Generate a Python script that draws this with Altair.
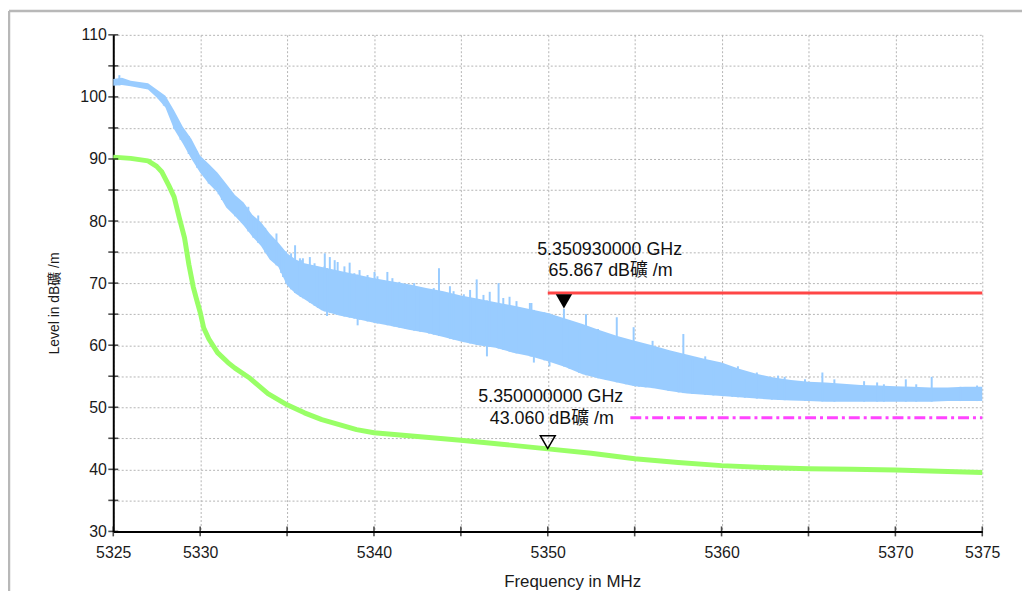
import altair as alt
import numpy as np
import pandas as pd

# ---------------- data ----------------
# Average detector trace (green)
avg_freq = [5325.0, 5326.0, 5327.0, 5327.5, 5327.8, 5328.2, 5328.5, 5328.8, 5329.1, 5329.35,
            5329.6, 5329.8, 5330.0, 5330.2, 5330.5, 5331.0, 5331.6, 5332.0, 5332.8, 5333.9,
            5335.0, 5336.0, 5337.0, 5338.0, 5339.0, 5340.0, 5342.5, 5345.0, 5347.5, 5350.0,
            5352.5, 5355.0, 5357.5, 5360.0, 5362.5, 5365.0, 5367.5, 5370.0, 5372.5, 5375.0]
avg_level = [90.3, 90.1, 89.7, 88.8, 87.9, 85.7, 83.9, 80.5, 77.3, 73.0,
             69.4, 67.3, 65.3, 62.8, 61.0, 58.8, 57.2, 56.3, 54.8, 52.2,
             50.4, 49.1, 48.0, 47.2, 46.4, 45.9, 45.3, 44.7, 44.0, 43.3,
             42.6, 41.7, 41.1, 40.6, 40.3, 40.1, 40.0, 39.9, 39.7, 39.5]

# Peak detector trace (blue): lower / upper envelope of the noisy band
pk_freq = [5325.0, 5325.5, 5326.0, 5327.0, 5327.5, 5328.0, 5328.5, 5329.0, 5329.5, 5330.0,
           5330.5, 5331.0, 5331.5, 5332.0, 5332.5, 5333.0, 5333.5, 5334.0, 5334.5, 5335.0,
           5335.5, 5336.0, 5337.0, 5338.0, 5339.0, 5340.0, 5341.0, 5342.0, 5343.0, 5344.0,
           5345.0, 5346.0, 5347.0, 5348.0, 5349.0, 5350.0, 5351.0, 5352.0, 5353.0, 5354.0,
           5355.0, 5356.0, 5357.0, 5358.0, 5359.0, 5360.0, 5361.0, 5362.0, 5363.0, 5364.0,
           5365.0, 5366.0, 5367.0, 5368.0, 5369.0, 5370.0, 5371.0, 5372.0, 5373.0, 5374.0,
           5375.0]
pk_low = [101.8, 101.9, 101.7, 101.2, 99.9, 98.3, 94.8, 92.5, 90.0, 87.8,
          86.0, 84.6, 82.2, 80.8, 79.3, 77.5, 76.0, 73.8, 72.6, 69.6,
          68.3, 67.4, 65.6, 64.8, 64.2, 63.6, 63.1, 62.5, 62.0, 61.3,
          60.6, 60.0, 59.6, 58.8, 58.2, 57.4, 56.5, 55.3, 54.6, 54.0,
          53.4, 53.1, 52.6, 52.2, 52.0, 51.8, 51.6, 51.4, 51.2, 51.1,
          51.0, 50.9, 50.9, 50.9, 50.9, 50.9, 50.9, 50.9, 51.0, 51.0,
          51.0]
pk_high = [102.9, 103.1, 102.6, 102.2, 101.2, 100.2, 97.8, 95.2, 93.2, 90.5,
           89.2, 87.8, 86.0, 84.2, 83.0, 81.0, 79.8, 78.0, 76.5, 74.8,
           73.8, 73.2, 72.6, 72.0, 71.4, 70.8, 70.3, 69.8, 69.2, 68.7,
           68.0, 67.5, 66.9, 66.4, 65.8, 65.2, 64.3, 63.4, 62.4, 61.5,
           60.7, 60.0, 59.2, 58.5, 57.8, 57.2, 56.2, 55.4, 54.8, 54.4,
           54.1, 54.0, 53.8, 53.6, 53.5, 53.4, 53.3, 53.2, 53.2, 53.3,
           53.3]

# Individual upward spikes of the peak trace
spike_freq = [5325.35, 5327.91, 5328.49, 5328.87, 5329.34, 5329.82, 5330.49, 5331.06, 5331.25,
              5332.01, 5332.77, 5333.06, 5333.34, 5333.74, 5334.39, 5334.66, 5334.77, 5334.94,
              5335.23, 5335.46, 5335.74, 5335.80, 5335.91, 5336.31, 5336.58, 5336.77, 5337.15,
              5337.17, 5337.46, 5337.74, 5337.91, 5338.30, 5338.60, 5338.87, 5339.17, 5339.63,
              5340.03, 5340.20, 5340.77, 5341.06, 5341.17, 5341.46, 5341.82, 5342.31, 5342.66,
              5343.17, 5343.44, 5343.74, 5344.37, 5344.58, 5345.17, 5345.53, 5345.91, 5346.30,
              5346.66, 5347.17, 5347.44, 5347.80, 5348.20, 5348.97, 5349.06, 5349.80, 5350.93,
              5351.25, 5351.80, 5352.20, 5352.89, 5353.34, 5353.97, 5354.49, 5354.94, 5355.25,
              5355.63, 5356.03, 5356.94, 5357.53, 5357.80, 5358.31, 5359.06, 5359.53, 5360.09,
              5360.62, 5360.94, 5361.34, 5362.03, 5362.89, 5363.25, 5363.63, 5364.80, 5365.80,
              5366.49, 5368.20, 5368.95, 5369.34, 5370.60, 5371.20, 5372.09, 5373.74, 5374.70]
spike_top = [103.5, 99.9, 96.9, 94.8, 93.7, 91.3, 88.9, 86.3, 86.3,
             83.9, 82.3, 80.2, 80.9, 78.9, 78.0, 75.7, 75.3, 75.1,
             74.8, 76.1, 74.0, 73.7, 74.0, 74.2, 73.2, 72.6, 72.7,
             74.8, 74.2, 73.7, 73.4, 72.7, 73.3, 71.6, 72.1, 71.3,
             71.8, 71.1, 71.8, 70.8, 69.3, 70.2, 69.7, 70.0, 68.9,
             68.2, 69.2, 72.4, 69.5, 68.7, 68.2, 68.9, 70.6, 68.1,
             68.6, 70.0, 67.6, 67.8, 67.1, 66.8, 66.8, 65.3, 65.867,
             63.6, 62.6, 65.0, 62.6, 61.7, 64.5, 60.7, 62.9, 59.9,
             59.9, 60.7, 59.0, 58.3, 61.8, 57.8, 58.2, 56.9, 57.0,
             56.1, 56.6, 55.0, 55.6, 54.5, 55.1, 54.9, 54.5, 55.6,
             54.5, 54.2, 54.0, 53.7, 54.5, 53.7, 54.9, 53.3, 53.5]

# Downward dips of the peak trace
dip_freq = [5337.3, 5339.06, 5346.5, 5349.2, 5350.1]
dip_bottom = [64.7, 63.2, 58.2, 57.2, 56.6]

# Limit lines
peak_limit = 68.4
peak_limit_start, peak_limit_end = 5350.0, 5375.0
avg_limit = 48.3
avg_limit_start, avg_limit_end = 5354.75, 5375.0

# Markers
mk_freq = [5350.93, 5350.0]
mk_level = [65.867, 43.06]
mk_line1 = ["5.350930000 GHz", "5.350000000 GHz"]
mk_line2 = ["65.867 dB礦 /m", "43.060 dB礦 /m"]

x_ticks = list(range(5325, 5376, 5))
y_ticks = list(range(30, 111, 5))

# ---------------- chart ----------------
FONT = "Liberation Sans, Arial, Noto Sans CJK JP"
BLUE = "#99ccff"
GREEN = "#99ff66"

xs = alt.Scale(domain=[5325, 5375], nice=False, zero=False)
ys = alt.Scale(domain=[30, 110], nice=False, zero=False)

x_axis = alt.Axis(
    values=x_ticks, format="d",
    labelExpr="(datum.value % 10 == 0 || datum.value == 5325 || datum.value == 5375) ? datum.label : ''",
    ticks=False, labelPadding=13, labelFontSize=16, labelColor="#1a1a1a", labelFont=FONT,
    domainColor="black", domainWidth=2,
    grid=True, gridDash=[2, 2], gridColor="#b4b4b4", gridWidth=1,
    title="Frequency in MHz", titleFont=FONT, titleFontSize=17, titleFontWeight="normal",
    titleColor="#1a1a1a", titleX=462, titleY=55, titleAlign="center", titleBaseline="alphabetic",
    labelFlush=False, labelOverlap=False,
)
y_axis = alt.Axis(
    values=y_ticks,
    labelExpr="datum.value % 10 == 0 ? datum.label : ''",
    ticks=False, labelPadding=7, labelFontSize=16, labelColor="#1a1a1a", labelFont=FONT,
    domainColor="black", domainWidth=2,
    grid=True, gridDash=[2, 2], gridColor="#b4b4b4", gridWidth=1,
    title="Level in dB礦 /m", titleFont="Liberation Sans Narrow, Liberation Sans, Noto Sans CJK JP",
    titleFontSize=14, titleFontWeight="normal", titleColor="#1a1a1a",
    titleAngle=270, titleX=-59, titleY=270, titleAlign="center", titleBaseline="middle",
    labelFlush=False, labelOverlap=False,
)


def X(field):
    return alt.X(field, type="quantitative", scale=xs, axis=x_axis)


def Y(field):
    return alt.Y(field, type="quantitative", scale=ys, axis=y_axis)


peak_df = pd.DataFrame({"f": pk_freq, "lo": pk_low, "hi": pk_high})
avg_df = pd.DataFrame({"f": avg_freq, "v": avg_level})
spike_df = pd.DataFrame({"f": spike_freq, "top": spike_top,
                         "base": np.interp(spike_freq, pk_freq, pk_low)})
dip_df = pd.DataFrame({"f": dip_freq, "bot": dip_bottom,
                       "base": np.interp(dip_freq, pk_freq, pk_high)})

peak_area = alt.Chart(peak_df).mark_area(color=BLUE, opacity=1).encode(
    x=X("f"), y=Y("hi"), y2="lo:Q")
spikes = alt.Chart(spike_df).mark_rule(color=BLUE, strokeWidth=2).encode(
    x=X("f"), y=Y("top"), y2="base:Q")
dips = alt.Chart(dip_df).mark_rule(color=BLUE, strokeWidth=2).encode(
    x=X("f"), y=Y("bot"), y2="base:Q")
avg_line = alt.Chart(avg_df).mark_line(color=GREEN, strokeWidth=5, strokeJoin="round").encode(
    x=X("f"), y=Y("v"))

red_df = pd.DataFrame({"a": [peak_limit_start], "b": [peak_limit_end], "y": [peak_limit]})
red_line = alt.Chart(red_df).mark_rule(color="#ff4646", strokeWidth=3).encode(
    x=X("a"), x2="b:Q", y=Y("y"))
mag_df = pd.DataFrame({"a": [avg_limit_start], "b": [avg_limit_end], "y": [avg_limit]})
mag_line = alt.Chart(mag_df).mark_rule(color="#ff44ff", strokeWidth=3, strokeDash=[11, 4, 3, 4]).encode(
    x=X("a"), x2="b:Q", y=Y("y"))

# axis ticks crossing the axis lines
xt_df = pd.DataFrame({"t": x_ticks, "y": [30] * len(x_ticks)})
yt_df = pd.DataFrame({"t": y_ticks, "x": [5325] * len(y_ticks)})
x_tick_marks = alt.Chart(xt_df).mark_tick(orient="vertical", size=10, thickness=1.6, color="black").encode(
    x=X("t"), y=Y("y"))
y_tick_marks = alt.Chart(yt_df).mark_tick(orient="horizontal", size=10, thickness=1.6, color="black").encode(
    y=Y("t"), x=X("x"))

# markers and their readouts
mk_df = pd.DataFrame({"f": mk_freq, "v": mk_level, "l1": mk_line1, "l2": mk_line2})
m1 = mk_df.iloc[[0]]
m2 = mk_df.iloc[[1]]
marker1 = alt.Chart(m1).mark_point(shape="triangle-down", size=270, filled=True, color="black",
                                   opacity=1, yOffset=-7.5).encode(x=X("f"), y=Y("v"))
marker2 = alt.Chart(m2).mark_point(shape="triangle-down", size=225, filled=False, color="black",
                                   strokeWidth=1.5, opacity=1, yOffset=-8.3).encode(x=X("f"), y=Y("v"))


def readout(df, field, dx, dy):
    return alt.Chart(df).mark_text(font=FONT, fontSize=18, color="#111111", align="center",
                                   baseline="alphabetic", dx=dx, dy=dy).encode(
        x=X("f"), y=Y("v"), text=f"{field}:N")


texts = [readout(m1, "l1", 46, -54.5), readout(m1, "l2", 47, -33),
         readout(m2, "l1", 3, -48.6), readout(m2, "l2", 4, -26.6)]

# light grey outer frame (top and left edge)
frame_top = alt.Chart(pd.DataFrame({"k": [0]})).mark_rule(color="#b8b8b8", strokeWidth=2.5).encode(
    x=alt.value(-105), x2=alt.value(915), y=alt.value(-24))
frame_left = alt.Chart(pd.DataFrame({"k": [0]})).mark_rule(color="#b8b8b8", strokeWidth=2.5).encode(
    x=alt.value(-105), y=alt.value(-24), y2=alt.value(560))

chart = alt.layer(
    peak_area, spikes, dips, avg_line, red_line, mag_line,
    x_tick_marks, y_tick_marks, marker1, marker2, *texts, frame_top, frame_left,
).properties(
    width=875, height=500,
    autosize=alt.AutoSizeParams(type="none"),
    padding={"left": 106, "top": 25, "right": 40, "bottom": 60},
    background="white",
).configure_view(strokeWidth=0)

chart.save("out.html", embed_options={"renderer": "svg", "actions": False})
